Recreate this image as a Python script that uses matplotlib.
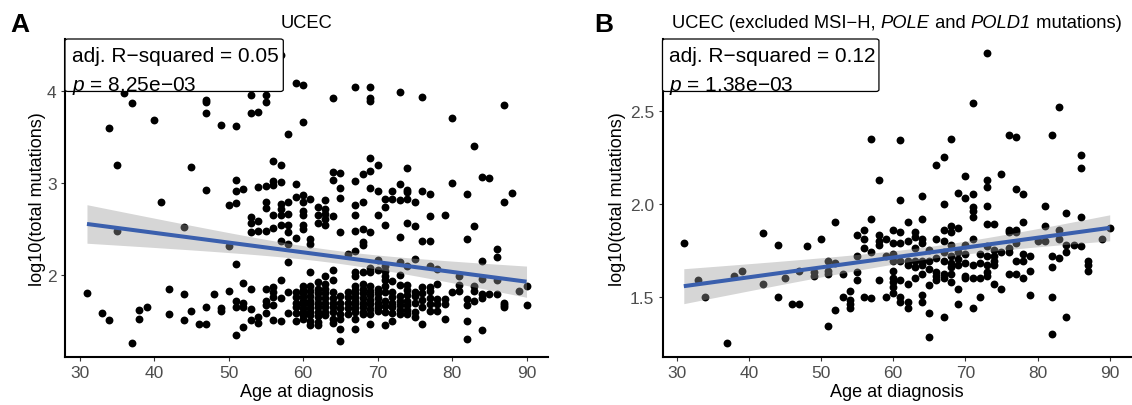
import numpy as np
import matplotlib
matplotlib.use("Agg")
import matplotlib.pyplot as plt
from matplotlib.patches import FancyBboxPatch

plt.rcParams['font.family'] = ['Liberation Sans', 'DejaVu Sans']
plt.rcParams['mathtext.fontset'] = 'custom'
plt.rcParams['mathtext.rm'] = 'Liberation Sans'
plt.rcParams['mathtext.it'] = 'Liberation Sans:italic'

# ---------------- data ----------------
points_a = [
    (31, 1.80), (33, 1.59), (34, 1.51), (34, 3.60), (35, 3.20), (35, 2.48), (36, 3.98),
    (37, 3.87), (37, 1.26), (38, 1.62), (38, 1.52), (39, 1.65), (40, 3.69), (41, 2.79),
    (42, 1.85), (42, 1.57), (44, 2.52), (44, 1.79), (44, 1.51), (45, 3.18), (45, 1.61),
    (46, 1.47), (47, 1.47), (47, 1.65), (47, 2.93), (47, 3.76), (47, 3.88), (47, 3.91),
    (48, 1.79), (49, 3.64), (49, 1.64), (49, 1.61), (50, 2.76), (50, 2.32), (50, 1.82),
    (51, 3.62), (51, 3.04), (51, 2.91), (51, 2.78), (51, 2.12), (51, 1.72), (51, 1.65), (51, 1.35),
    (52, 2.94), (52, 1.91), (52, 1.69), (52, 1.65), (52, 1.43),
    (53, 3.96), (53, 3.77), (53, 2.63), (53, 2.57), (53, 2.47), (53, 1.85), (53, 1.63), (53, 1.51),
    (54, 3.78), (54, 2.96), (54, 2.59), (54, 2.48), (54, 1.54), (54, 1.48),
    (55, 3.96), (55, 3.88), (55, 2.97), (55, 2.80), (55, 2.73), (55, 2.48), (55, 1.85), (55, 1.72),
    (55, 1.67), (55, 1.59),
    (56, 3.24), (56, 3.02), (56, 2.98), (56, 2.65), (56, 2.51), (56, 1.87), (56, 1.81), (56, 1.76),
    (56, 1.67), (56, 1.51),
    (57, 4.40), (57, 3.20), (57, 3.01), (57, 2.77), (57, 2.72), (57, 2.65), (57, 2.54), (57, 2.37),
    (57, 1.94), (57, 1.75), (57, 1.50),
    (58, 3.54), (58, 2.79), (58, 2.67), (58, 2.54), (58, 2.47), (58, 2.34), (58, 2.14), (58, 1.81), (58, 1.59),
    (59, 4.09), (59, 2.99), (59, 2.85), (59, 2.40), (59, 1.81), (59, 1.76), (59, 1.70), (59, 1.65),
    (59, 1.59), (59, 1.50),
    (60, 4.07), (60, 3.67), (60, 2.87), (60, 2.79), (60, 2.70), (60, 2.65), (60, 2.54), (60, 2.50),
    (60, 1.88), (60, 1.84), (60, 1.80), (60, 1.76), (60, 1.72), (60, 1.68), (60, 1.64), (60, 1.60),
    (60, 1.56), (60, 1.52),
    (61, 2.83), (61, 2.39), (61, 2.34), (61, 2.03), (61, 1.88), (61, 1.82), (61, 1.77), (61, 1.72),
    (61, 1.68), (61, 1.64), (61, 1.60), (61, 1.56), (61, 1.50), (61, 1.46),
    (62, 2.74), (62, 2.65), (62, 2.57), (62, 1.92), (62, 1.85), (62, 1.80), (62, 1.75), (62, 1.70),
    (62, 1.65), (62, 1.60), (62, 1.55), (62, 1.49), (62, 1.45),
    (63, 2.82), (63, 2.72), (63, 2.67), (63, 2.61), (63, 2.54), (63, 1.99), (63, 1.90), (63, 1.85),
    (63, 1.80), (63, 1.75), (63, 1.70), (63, 1.65), (63, 1.60), (63, 1.56),
    (64, 3.93), (64, 3.12), (64, 3.04), (64, 2.64), (64, 2.05), (64, 1.94), (64, 1.81), (64, 1.75),
    (64, 1.70), (64, 1.65), (64, 1.60), (64, 1.52), (64, 1.48),
    (65, 3.11), (65, 2.95), (65, 2.84), (65, 2.47), (65, 1.77), (65, 1.70), (65, 1.64), (65, 1.58),
    (65, 1.52), (65, 1.41), (65, 1.28),
    (66, 2.23), (66, 1.81), (66, 1.76), (66, 1.70), (66, 1.64), (66, 1.57),
    (67, 4.05), (67, 3.02), (67, 2.76), (67, 2.65), (67, 2.48), (67, 2.26), (67, 2.03), (67, 1.99),
    (67, 1.88), (67, 1.84), (67, 1.80), (67, 1.76), (67, 1.72), (67, 1.68), (67, 1.64), (67, 1.60),
    (67, 1.52), (67, 1.41),
    (68, 3.10), (68, 2.80), (68, 2.50), (68, 2.36), (68, 2.33), (68, 2.03), (68, 1.90), (68, 1.85),
    (68, 1.80), (68, 1.75), (68, 1.70), (68, 1.65), (68, 1.60), (68, 1.57),
    (69, 4.05), (69, 3.93), (69, 3.90), (69, 3.28), (69, 3.13), (69, 2.95), (69, 2.47), (69, 2.08),
    (69, 2.03), (69, 1.88), (69, 1.83), (69, 1.78), (69, 1.73), (69, 1.68), (69, 1.63), (69, 1.58), (69, 1.47),
    (70, 3.20), (70, 2.91), (70, 2.65), (70, 2.16), (70, 2.05), (70, 1.85), (70, 1.80), (70, 1.75),
    (70, 1.70), (70, 1.65), (70, 1.61),
    (71, 2.83), (71, 2.74), (71, 2.55), (71, 2.10), (71, 2.04), (71, 1.99), (71, 1.94), (71, 1.88),
    (71, 1.81), (71, 1.72), (71, 1.66), (71, 1.60), (71, 1.45),
    (72, 2.91), (72, 2.83), (72, 1.93), (72, 1.81), (72, 1.76), (72, 1.70), (72, 1.65), (72, 1.59), (72, 1.50),
    (73, 3.99), (73, 2.99), (73, 2.82), (73, 2.41), (73, 2.14), (73, 2.00), (73, 1.89), (73, 1.77),
    (73, 1.72), (73, 1.67), (73, 1.62), (73, 1.57),
    (74, 3.17), (74, 2.93), (74, 2.90), (74, 2.83), (74, 2.57), (74, 2.10), (74, 1.89), (74, 1.84),
    (74, 1.78), (74, 1.72), (74, 1.67), (74, 1.62), (74, 1.57),
    (75, 2.80), (75, 2.53), (75, 2.17), (75, 1.81), (75, 1.77), (75, 1.70), (75, 1.60), (75, 1.54),
    (76, 3.94), (76, 2.91), (76, 2.37), (76, 1.87), (76, 1.80), (76, 1.73), (76, 1.65), (76, 1.47),
    (77, 2.88), (77, 2.64), (77, 2.37), (77, 2.10), (77, 1.87), (77, 1.82), (77, 1.75), (77, 1.68), (77, 1.61),
    (78, 2.07), (78, 1.90), (78, 1.74), (78, 1.68), (78, 1.61),
    (79, 2.65), (79, 1.74), (79, 1.68), (79, 1.52),
    (80, 3.71), (80, 3.00), (80, 1.81),
    (81, 1.99), (81, 1.89), (81, 1.83),
    (82, 2.88), (82, 2.39), (82, 1.74), (82, 1.67), (82, 1.50), (82, 1.30),
    (83, 3.41), (83, 2.53), (83, 1.88), (83, 1.83), (83, 1.72),
    (84, 3.07), (84, 2.15), (84, 1.96), (84, 1.79), (84, 1.75), (84, 1.40),
    (85, 3.06), (85, 1.79),
    (86, 2.28), (86, 2.20), (86, 1.94), (86, 1.79),
    (87, 3.85), (87, 2.79), (87, 1.70), (87, 1.67), (87, 1.65),
    (88, 2.89), (89, 1.82), (90, 1.88), (90, 1.67),
]

points_b = [
    (31, 1.79), (33, 1.59), (34, 1.50), (37, 1.25), (38, 1.61), (39, 1.64), (42, 1.84), (42, 1.57),
    (44, 1.78), (44, 1.50), (45, 1.60), (46, 1.46), (47, 1.46), (47, 1.64), (48, 1.77),
    (49, 1.63), (49, 1.61), (50, 1.81), (51, 1.69), (51, 1.64), (51, 1.62), (51, 1.34),
    (52, 1.90), (52, 1.68), (52, 1.43), (53, 1.62), (53, 1.50),
    (54, 1.53), (54, 1.48), (54, 1.46), (54, 1.44),
    (55, 1.83), (55, 1.72), (55, 1.63), (55, 1.59),
    (56, 1.86), (56, 1.81), (56, 1.76), (56, 1.50),
    (57, 2.35), (57, 1.92), (57, 1.74), (57, 1.49),
    (58, 2.13), (58, 1.83), (58, 1.80), (58, 1.78), (58, 1.59),
    (59, 1.81), (59, 1.72), (59, 1.50),
    (60, 1.86), (60, 1.79), (60, 1.73), (60, 1.69), (60, 1.64), (60, 1.60), (60, 1.58), (60, 1.55), (60, 1.52),
    (61, 2.34), (61, 2.02), (61, 1.85), (61, 1.79), (61, 1.69), (61, 1.59), (61, 1.50), (61, 1.47),
    (62, 1.90), (62, 1.80), (62, 1.69), (62, 1.67), (62, 1.57), (62, 1.47), (62, 1.44),
    (63, 1.85), (63, 1.82), (63, 1.76), (63, 1.69), (63, 1.66), (63, 1.60),
    (64, 2.04), (64, 1.92), (64, 1.81), (64, 1.79), (64, 1.69), (64, 1.67), (64, 1.62), (64, 1.51), (64, 1.47),
    (65, 1.75), (65, 1.69), (65, 1.65), (65, 1.56), (65, 1.41), (65, 1.28),
    (66, 2.21), (66, 1.81), (66, 1.71), (66, 1.63), (66, 1.61), (66, 1.59),
    (67, 2.25), (67, 2.00), (67, 1.86), (67, 1.80), (67, 1.74), (67, 1.69), (67, 1.62), (67, 1.60), (67, 1.39),
    (68, 2.35), (68, 1.88), (68, 1.85), (68, 1.78), (68, 1.72), (68, 1.68), (68, 1.66), (68, 1.62), (68, 1.58),
    (69, 2.06), (69, 1.87), (69, 1.74), (69, 1.70), (69, 1.67), (69, 1.54), (69, 1.46),
    (70, 2.15), (70, 2.03), (70, 1.78), (70, 1.73), (70, 1.68), (70, 1.61), (70, 1.60),
    (71, 2.54), (71, 2.05), (71, 1.98), (71, 1.96), (71, 1.93), (71, 1.81), (71, 1.67), (71, 1.60), (71, 1.44),
    (72, 1.73), (72, 1.68), (72, 1.60), (72, 1.50),
    (73, 2.81), (73, 2.13), (73, 2.09), (73, 1.99), (73, 1.89), (73, 1.77), (73, 1.72), (73, 1.67),
    (73, 1.63), (73, 1.61),
    (74, 1.89), (74, 1.75), (74, 1.72), (74, 1.69), (74, 1.67), (74, 1.57),
    (75, 2.16), (75, 1.74), (75, 1.54),
    (76, 2.37), (76, 1.86), (76, 1.85), (76, 1.76), (76, 1.74), (76, 1.62),
    (77, 2.36), (77, 2.08), (77, 1.86), (77, 1.85), (77, 1.79), (77, 1.69), (77, 1.62),
    (78, 2.05), (78, 1.90), (78, 1.73), (78, 1.69), (78, 1.60),
    (79, 1.72), (79, 1.64), (79, 1.51), (80, 1.80),
    (81, 1.99), (81, 1.88), (81, 1.80),
    (82, 2.37), (82, 1.72), (82, 1.66), (82, 1.50), (82, 1.30),
    (83, 2.52), (83, 1.86), (83, 1.81), (83, 1.71),
    (84, 1.95), (84, 1.78), (84, 1.74), (84, 1.39), (85, 1.78),
    (86, 2.26), (86, 2.19), (86, 1.93), (86, 1.77),
    (87, 1.69), (87, 1.67), (87, 1.64), (89, 1.81), (90, 1.87),
]

# regression lines (value at ages 31 and 90)
fit_x = [31, 90]
fit_a_y = [2.556, 1.927]
fit_b_y = [1.556, 1.870]
# confidence-band half widths read at three ages
band_a_x = [31, 62, 90]
band_a_half = [0.21, 0.07, 0.17]
band_b_x = [31, 66, 90]
band_b_half = [0.094, 0.033, 0.070]

title_a = "UCEC"
# title B as (text, italic?) pieces
title_b_parts = [("UCEC (excluded MSI\u2212H, ", False), ("POLE", True), (" and ", False),
                 ("POLD1", True), (" mutations)", False)]
panel_tags = ["A", "B"]
stats_r2 = ["0.05", "0.12"]
stats_p = ["8.25e\u221203", "1.38e\u221203"]
yticks_a = [2, 3, 4]
yticks_b = [1.5, 2.0, 2.5]
yticklabels_b = ["1.5", "2.0", "2.5"]
xticks = [30, 40, 50, 60, 70, 80, 90]

# ---------------- figure ----------------
W, H = 1132, 406
fig = plt.figure(figsize=(W / 100, H / 100), dpi=100)

axA = fig.add_axes([65 / W, 48 / H, 483.5 / W, 318 / H])
axB = fig.add_axes([662.5 / W, 48 / H, 468.5 / W, 318 / H])

line_col = "#3A5FAD"
tick_col = "#4D4D4D"


def draw(ax, pts, fy, bx, bh, ylim, yt, ytl, r2, p, boxw):
    x = np.array([q[0] for q in pts], float)
    y = np.array([q[1] for q in pts], float)
    ax.scatter(x, y, s=32, c="black", linewidths=0, zorder=2)
    xs = np.linspace(fit_x[0], fit_x[1], 200)
    slope = (fy[1] - fy[0]) / (fit_x[1] - fit_x[0])
    ys = fy[0] + slope * (xs - fit_x[0])
    coef = np.polyfit(bx, np.square(bh), 2)
    hw = np.sqrt(np.clip(np.polyval(coef, xs), 0, None))
    ax.fill_between(xs, ys - hw, ys + hw, color="#999999", alpha=0.4, lw=0, zorder=3)
    ax.plot(xs, ys, color=line_col, lw=2.9, zorder=4, solid_capstyle="butt")
    ax.set_xlim(28.05, 92.95)
    ax.set_ylim(*ylim)
    ax.set_xticks(xticks)
    ax.set_yticks(yt)
    if ytl is not None:
        ax.set_yticklabels(ytl)
    for s in ["top", "right"]:
        ax.spines[s].set_visible(False)
    for s in ["left", "bottom"]:
        ax.spines[s].set_linewidth(1.5)
        ax.spines[s].set_color("black")
    ax.tick_params(axis="both", length=3, width=0.8, color="#333333", pad=3,
                   labelsize=12.5, labelcolor=tick_col)
    box = FancyBboxPatch((0.0, 0.835), boxw, 0.165,
                         boxstyle="round,pad=0,rounding_size=0.006",
                         transform=ax.transAxes, facecolor="white",
                         edgecolor="black", lw=0.9, zorder=5, clip_on=False)
    ax.add_patch(box)
    ax.text(0.0145, 0.932, "adj. R\u2212squared = " + r2, transform=ax.transAxes,
            fontsize=15, va="baseline", ha="left", zorder=6)
    ax.text(0.0145, 0.840, r"$\it{p}$ = " + p, transform=ax.transAxes,
            fontsize=15, va="baseline", ha="left", zorder=6)


draw(axA, points_a, fit_a_y, band_a_x, band_a_half, (1.106, 4.572),
     yticks_a, None, stats_r2[0], stats_p[0], 0.4515)
draw(axB, points_b, fit_b_y, band_b_x, band_b_half, (1.175, 2.886),
     yticks_b, yticklabels_b, stats_r2[1], stats_p[1], 0.462)

renderer = fig.canvas.get_renderer()
title_fs = 13.2
title_base = 1 - 28.5 / H


def text_w(s, italic):
    t = fig.text(0, 0, s, fontsize=title_fs, style="italic" if italic else "normal")
    w = t.get_window_extent(renderer).width
    t.remove()
    return w


# title A
bbA = axA.get_position()
fig.text((bbA.x0 + bbA.x1) / 2, title_base, title_a, ha="center", va="baseline", fontsize=title_fs)

# title B, pieces laid out left to right, centred over axes B
advances = []
for s, it in title_b_parts:
    adv = text_w(s + "x", it) - text_w("x", it)
    advances.append(adv)
total = sum(advances)
bbB = axB.get_position()
cxB = (bbB.x0 + bbB.x1) / 2 * W
xcur = cxB - total / 2
for (s, it), adv in zip(title_b_parts, advances):
    fig.text(xcur / W, title_base, s, ha="left", va="baseline", fontsize=title_fs,
             style="italic" if it else "normal")
    xcur += adv

for ax, tag, tagx in [(axA, panel_tags[0], 10), (axB, panel_tags[1], 594)]:
    bb = ax.get_position()
    cx = (bb.x0 + bb.x1) / 2
    fig.text(tagx / W, 1 - 32 / H, tag, ha="left", va="baseline", fontsize=19,
             fontweight="bold")
    fig.text(cx, 1 - 397 / H, "Age at diagnosis", ha="center", va="baseline", fontsize=13)

ycen = (48 + 159) / H
fig.text(38 / W, ycen, "log10(total mutations)", rotation=90, ha="center", va="center", fontsize=13)
fig.text(617 / W, ycen, "log10(total mutations)", rotation=90, ha="center", va="center", fontsize=13)

fig.savefig("out.png", dpi=100)
